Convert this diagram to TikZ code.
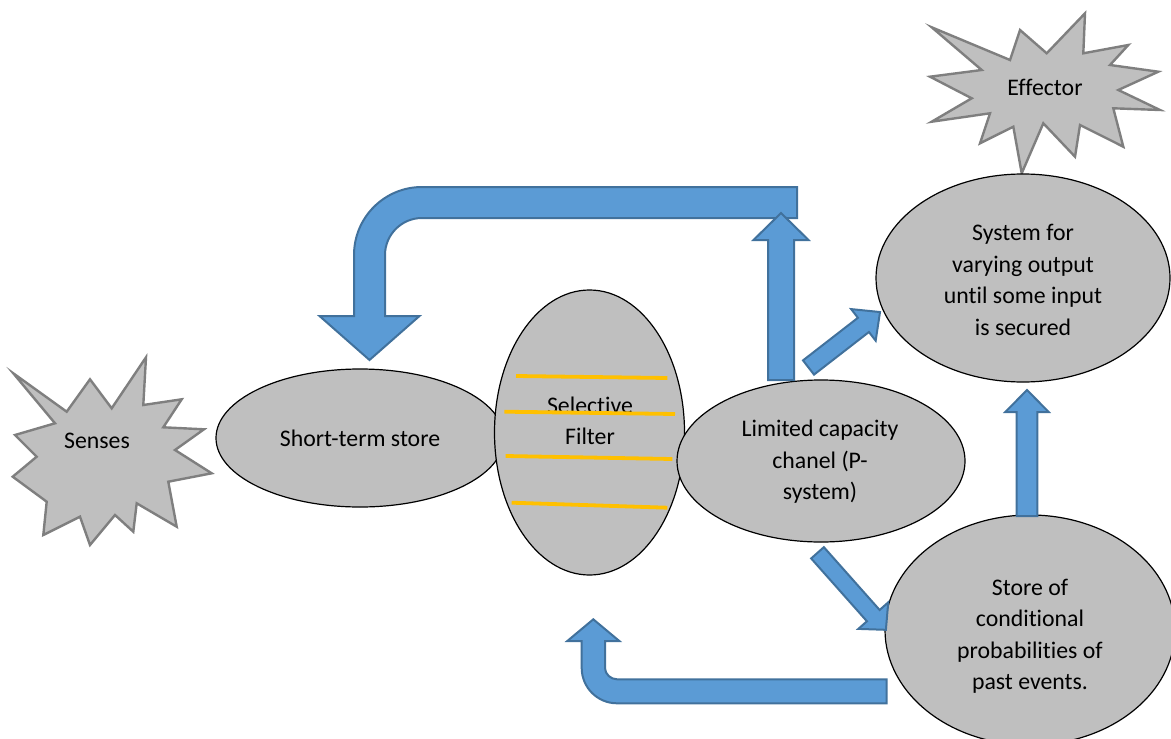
\documentclass[tikz,border=0pt]{standalone}
\usepackage{fontspec}
\setmainfont[Ligatures=NoCommon]{Carlito}
\usetikzlibrary{shapes.geometric}
\definecolor{shapegray}{HTML}{BFBFBF}
\definecolor{stargray}{HTML}{7F7F7F}
\definecolor{arrowblue}{HTML}{5B9BD5}
\definecolor{arrowedge}{HTML}{41719C}
\definecolor{filteryellow}{HTML}{FFC000}
% block arrow: #1 tail point, #2 angle, #3 length, #4 head length, #5 shaft half width, #6 head half width
\newcommand{\BArrow}[6]{%
  \begin{scope}[shift={#1},rotate=#2]
    \draw[barrow] (0,-#5) -- ({#3-#4},-#5) -- ({#3-#4},-#6) -- (#3,0) -- ({#3-#4},#6) -- ({#3-#4},#5) -- (0,#5) -- cycle;
  \end{scope}}
\begin{document}
\begin{tikzpicture}[x=0.5pt,y=-0.5pt,
  txtfont/.style={font=\fontsize{11.9}{15.75}\selectfont},
  bubble/.style={ellipse, draw=black, line width=0.6pt, fill=shapegray, inner sep=0pt, align=center, txtfont},
  txt/.style={inner sep=0pt, align=center, txtfont},
  starshape/.style={draw=stargray, fill=shapegray, line width=1.2pt, line join=miter},
  barrow/.style={draw=arrowedge, fill=arrowblue, line width=1pt, line join=miter},
  yline/.style={draw=filteryellow, line width=1.9pt}]
\clip (0,0) rectangle (1171,738);

% stars
\draw[starshape] (13.3,373.3) -- (66.7,411.7) -- (90,379.3) -- (111.7,408.3) -- (146,357.3) -- (143.3,405) -- (181.7,399.3) -- (163.3,427.3) -- (204,429.3) -- (175,450) -- (211.7,473.3) -- (168.3,481.7) -- (176.7,526.7) -- (136.7,503.3) -- (133.3,531.7) -- (115,515) -- (90,545) -- (80,516.7) -- (43.3,535) -- (46.7,501.7) -- (12.7,476.7) -- (36.7,456.7) -- (15,435) -- (55,423.3) -- cycle;
\node[txt] (senses) at (97,441) {Senses};

\draw[starshape] (931.7,27.3) -- (1010,60) -- (1020,30) -- (1046.7,53.3) -- (1085,13.3) -- (1083.3,53.3) -- (1128.3,45) -- (1110,65) -- (1158.3,71.7) -- (1118.3,90) -- (1160,110) -- (1113.3,108.3) -- (1123.3,146.7) -- (1080,125) -- (1075,156.7) -- (1043.3,123.3) -- (1021.7,173.3) -- (1013.3,126.7) -- (980,143.3) -- (990,113.3) -- (931.7,121.7) -- (971.7,98.3) -- (930,76.7) -- (981.7,70) -- cycle;
\node[txt] (effector) at (1045,87) {Effector};

% ellipses
\node[bubble, minimum width=144pt, minimum height=69pt] (sts) at (360,438) {Short-term store};
\node[bubble, minimum width=95pt, minimum height=142.5pt] (filter) at (589.5,432.5) {};
\node[txt] (filtertext) at (590,421) {Selective\\Filter};
\node[bubble, minimum width=144pt, minimum height=81pt] (lcc) at (821,461) {};
\node[txt] (lcctext) at (820,462) {Limited capacity\\chanel (P-\\system)};
\node[bubble, minimum width=147pt, minimum height=104pt] (system) at (1023,278) {};
\node[txt] (systemtext) at (1023,280) {System for\\varying output\\until some input\\is secured};
\node[bubble, minimum width=145pt, minimum height=115pt] (store) at (1030,630) {};
\node[txt] (storetext) at (1030,636) {Store of\\conditional\\probabilities of\\past events.};

% yellow filter lines
\draw[yline] (516,376) -- (667.3,378);
\draw[yline] (504.3,411.7) -- (675,414);
\draw[yline] (505.7,456) -- (672.3,459);
\draw[yline] (511.7,502.7) -- (667.3,507.7);

% top U-turn arrow
\draw[barrow] (797,187) -- (422,187) .. controls (384.4,187) and (354,217.4) .. (354,255) -- (354,316) -- (319.5,316) -- (369.5,360) -- (419.5,316) -- (385,316) -- (385,255) .. controls (385,234.6) and (401.6,218) .. (422,218) -- (797,218) -- cycle;

% straight block arrows
\BArrow{(781,380)}{90}{167}{27}{13}{27.5}
\BArrow{(808.5,367.5)}{37.8}{90.5}{21}{9}{20}
\BArrow{(817.5,552.8)}{-48.4}{103}{19}{8.5}{20}
\BArrow{(1027,516)}{90}{126}{22}{10.3}{21.7}

% bottom U-turn arrow
\draw[barrow] (886.7,679.3) -- (617,679.3) .. controls (610.8,679.3) and (605,674.2) .. (605,668) -- (605,641) -- (619.3,641) -- (593.3,619.3) -- (567.3,641) -- (581.7,641) -- (581.7,668) .. controls (581.7,687.5) and (597.5,703.3) .. (617,703.3) -- (886.7,703.3) -- cycle;
\end{tikzpicture}
\end{document}
